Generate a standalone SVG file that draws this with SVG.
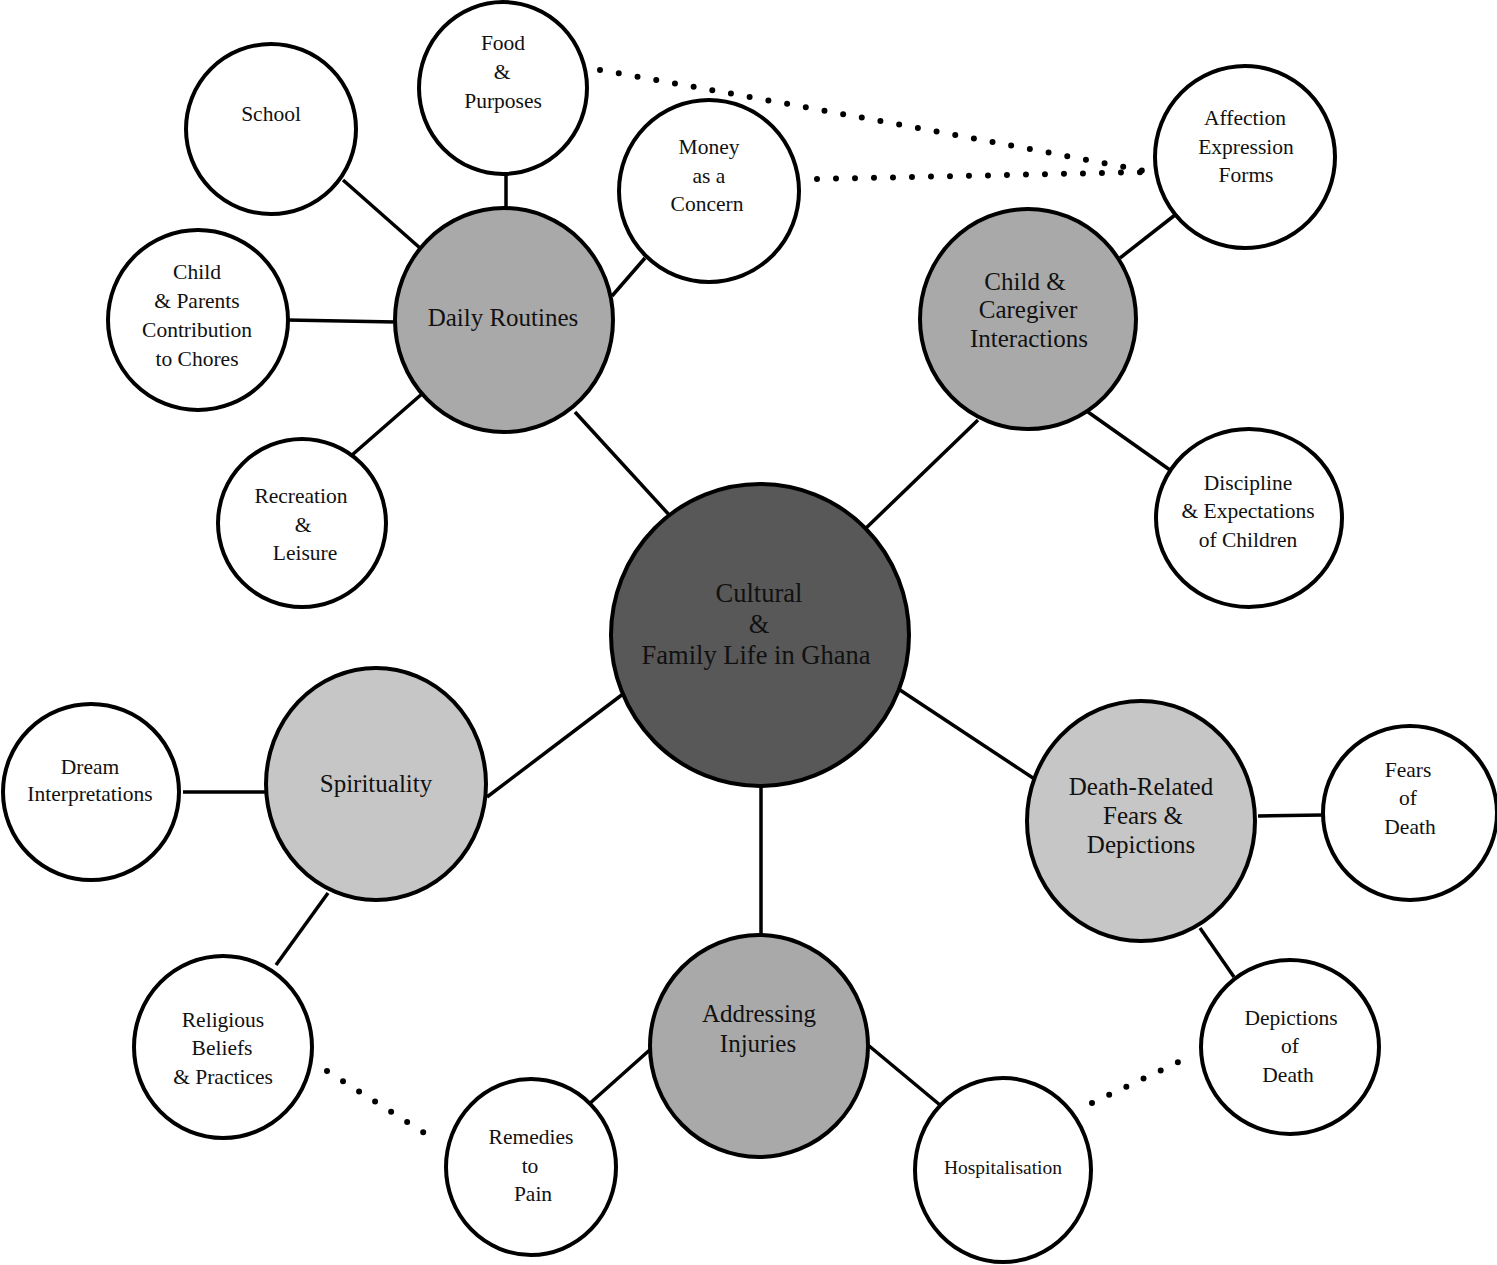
<svg xmlns="http://www.w3.org/2000/svg" width="1497" height="1265" viewBox="0 0 1497 1265">
<style>
.n{stroke:#000;stroke-width:4}
.leaf{fill:#fff}
.mid{fill:#a9a9a9}
.light{fill:#c6c6c6}
.core{fill:#585858}
.c line{stroke:#000;stroke-width:3.5}
.dot{fill:none;stroke:#000;stroke-width:6;stroke-linecap:round;stroke-dasharray:0 19}
text{font-family:"Liberation Serif","Times New Roman",serif;fill:#111;text-anchor:middle}
.s{font-size:21.5px}
.m{font-size:25px}
.l{font-size:26.5px}
</style>
<rect width="1497" height="1265" fill="#fff"/>
<g class="c" id="connectors">
<line x1="343" y1="180" x2="420" y2="248"/>
<line x1="506" y1="174" x2="506" y2="209"/>
<line x1="645" y1="258" x2="612" y2="296"/>
<line x1="287" y1="320" x2="396" y2="322"/>
<line x1="352" y1="455" x2="423" y2="393"/>
<line x1="575" y1="412" x2="672" y2="518"/>
<line x1="1175" y1="215" x2="1120" y2="258"/>
<line x1="1088" y1="412" x2="1170" y2="470"/>
<line x1="978" y1="420" x2="864" y2="530"/>
<line x1="900" y1="690" x2="1036" y2="780"/>
<line x1="761" y1="780" x2="761" y2="936"/>
<line x1="623" y1="694" x2="487" y2="797"/>
<line x1="183" y1="792" x2="265" y2="792"/>
<line x1="328" y1="893" x2="276" y2="965"/>
<line x1="653" y1="1047" x2="588" y2="1105"/>
<line x1="868" y1="1045" x2="940" y2="1105"/>
<line x1="1258" y1="816" x2="1323" y2="815"/>
<line x1="1200" y1="928" x2="1234" y2="977"/>
<path class="dot" d="M600 70 Q 880 120 1150 172"/>
<path class="dot" d="M817 179 L 1150 172"/>
<path class="dot" d="M327 1071 L 426 1134"/>
<path class="dot" d="M1092 1103 L 1185 1059"/>
</g>
<g id="central"><ellipse class="n core" cx="760" cy="635" rx="149" ry="151"/>
<text class="l" x="759" y="602">Cultural</text><text class="l" x="759" y="633">&amp;</text><text class="l" x="756" y="664">Family Life in Ghana</text></g>
<g id="daily"><ellipse class="n mid" cx="504" cy="320" rx="109" ry="112"/>
<text class="m" x="503" y="326">Daily Routines</text></g>
<g id="caregiver"><ellipse class="n mid" cx="1028" cy="319" rx="108" ry="110"/>
<text class="m" x="1025" y="290">Child &amp;</text><text class="m" x="1028" y="318">Caregiver</text><text class="m" x="1029" y="347">Interactions</text></g>
<g id="spirituality"><ellipse class="n light" cx="376" cy="784" rx="110" ry="116"/>
<text class="m" x="376" y="792">Spirituality</text></g>
<g id="death"><ellipse class="n light" cx="1141" cy="821" rx="114" ry="120"/>
<text class="m" x="1141" y="795">Death-Related</text><text class="m" x="1143" y="824">Fears &amp;</text><text class="m" x="1141" y="853">Depictions</text></g>
<g id="injuries"><ellipse class="n mid" cx="759" cy="1046" rx="109" ry="111"/>
<text class="m" x="759" y="1022">Addressing</text><text class="m" x="758" y="1052">Injuries</text></g>
<g id="school"><ellipse class="n leaf" cx="271" cy="129" rx="85" ry="85"/>
<text class="s" x="271" y="121">School</text></g>
<g id="food"><ellipse class="n leaf" cx="503" cy="88" rx="84" ry="86"/>
<text class="s" x="503" y="50">Food</text><text class="s" x="502" y="79">&amp;</text><text class="s" x="503" y="108">Purposes</text></g>
<g id="money"><ellipse class="n leaf" cx="709" cy="191" rx="90" ry="91"/>
<text class="s" x="709" y="154">Money</text><text class="s" x="709" y="183">as a</text><text class="s" x="707" y="211">Concern</text></g>
<g id="chores"><ellipse class="n leaf" cx="198" cy="320" rx="90" ry="90"/>
<text class="s" x="197" y="279">Child</text><text class="s" x="197" y="308">&amp; Parents</text><text class="s" x="197" y="337">Contribution</text><text class="s" x="197" y="366">to Chores</text></g>
<g id="recreation"><ellipse class="n leaf" cx="302" cy="523" rx="84" ry="84"/>
<text class="s" x="301" y="503">Recreation</text><text class="s" x="303" y="532">&amp;</text><text class="s" x="305" y="560">Leisure</text></g>
<g id="affection"><ellipse class="n leaf" cx="1245" cy="157" rx="90" ry="91"/>
<text class="s" x="1245" y="125">Affection</text><text class="s" x="1246" y="154">Expression</text><text class="s" x="1246" y="182">Forms</text></g>
<g id="discipline"><ellipse class="n leaf" cx="1249" cy="518" rx="93" ry="89"/>
<text class="s" x="1248" y="490">Discipline</text><text class="s" x="1248" y="518">&amp; Expectations</text><text class="s" x="1248" y="547">of Children</text></g>
<g id="dream"><ellipse class="n leaf" cx="91" cy="792" rx="88" ry="88"/>
<text class="s" x="90" y="774">Dream</text><text class="s" x="90" y="801">Interpretations</text></g>
<g id="religious"><ellipse class="n leaf" cx="223" cy="1047" rx="89" ry="91"/>
<text class="s" x="223" y="1027">Religious</text><text class="s" x="222" y="1055">Beliefs</text><text class="s" x="223" y="1084">&amp; Practices</text></g>
<g id="fears"><ellipse class="n leaf" cx="1410" cy="813" rx="87" ry="87"/>
<text class="s" x="1408" y="777">Fears</text><text class="s" x="1408" y="805">of</text><text class="s" x="1410" y="834">Death</text></g>
<g id="depictions"><ellipse class="n leaf" cx="1290" cy="1047" rx="89" ry="87"/>
<text class="s" x="1291" y="1025">Depictions</text><text class="s" x="1290" y="1053">of</text><text class="s" x="1288" y="1082">Death</text></g>
<g id="remedies"><ellipse class="n leaf" cx="531" cy="1167" rx="85" ry="88"/>
<text class="s" x="531" y="1144">Remedies</text><text class="s" x="530" y="1173">to</text><text class="s" x="533" y="1201">Pain</text></g>
<g id="hospital"><ellipse class="n leaf" cx="1003" cy="1170" rx="88" ry="92"/>
<text class="s" x="1003" y="1174" style="font-size:19.5px">Hospitalisation</text></g>
</svg>
